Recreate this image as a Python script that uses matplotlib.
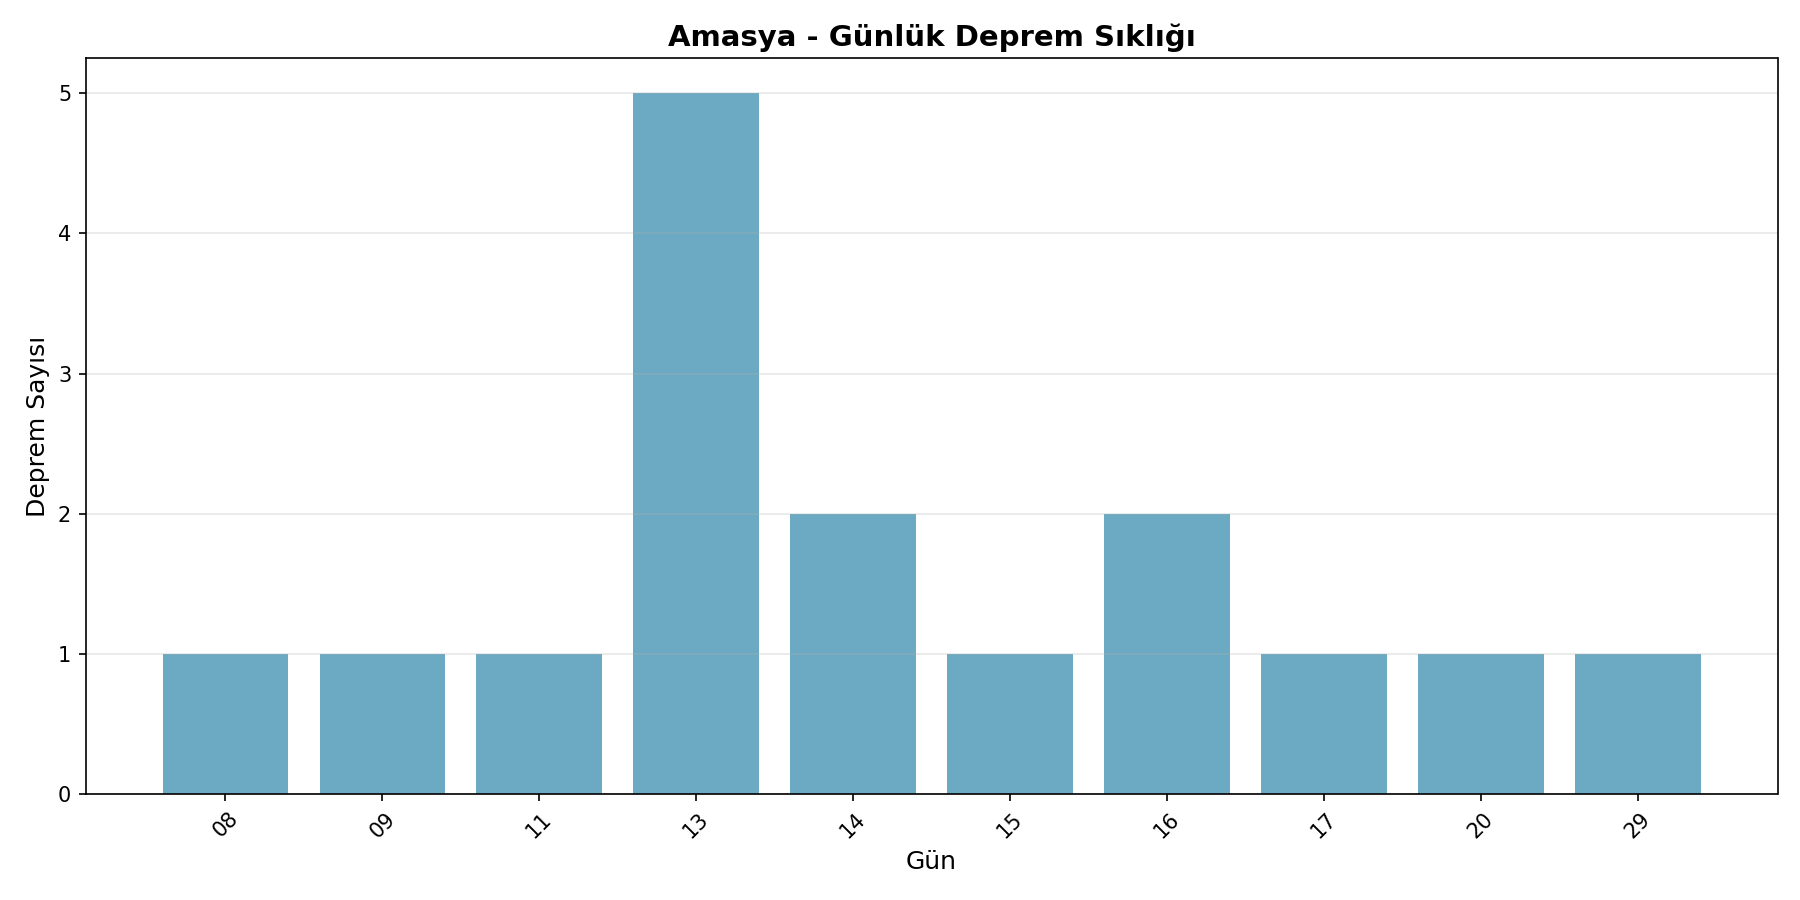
import matplotlib
matplotlib.use("Agg")
import matplotlib.pyplot as plt

days = ["08", "09", "11", "13", "14", "15", "16", "17", "20", "29"]
counts = [1, 1, 1, 5, 2, 1, 2, 1, 1, 1]

fig, ax = plt.subplots(figsize=(12, 6))
ax.bar(days, counts, color="#2E86AB", alpha=0.7)
ax.set_title("Amasya - Günlük Deprem Sıklığı", fontsize=14, fontweight="bold")
ax.set_xlabel("Gün", fontsize=12)
ax.set_ylabel("Deprem Sayısı", fontsize=12)
ax.grid(axis="y", alpha=0.3)
plt.xticks(rotation=45)
plt.tight_layout()
plt.savefig("out.png", dpi=150)
plt.close()
